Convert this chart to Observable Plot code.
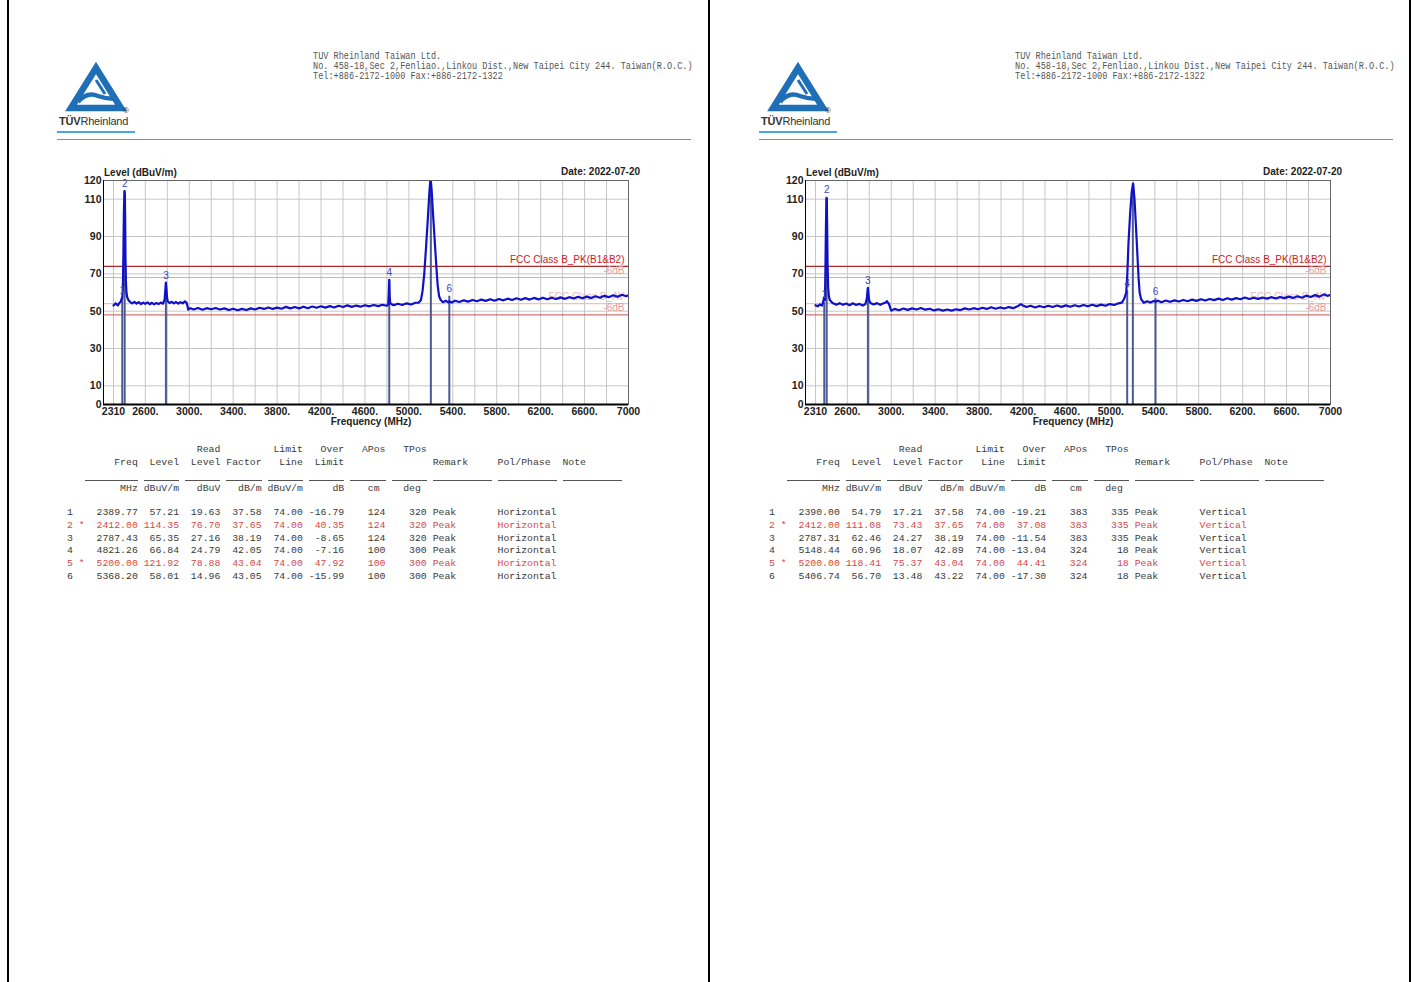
<!DOCTYPE html>
<html><head><meta charset="utf-8">
<script src="https://cdn.jsdelivr.net/npm/d3@7"></script>
<script src="https://cdn.jsdelivr.net/npm/@observablehq/plot@0.6"></script>
<style>
body{margin:0;width:1414px;height:982px;background:#fff;position:relative;overflow:hidden;font-family:"Liberation Sans",Arial,sans-serif}
.abs{position:absolute;white-space:pre}
.vline{position:absolute;top:0;width:2px;height:982px;background:#000}
.addr{position:absolute;font-family:"Liberation Mono",monospace;font-size:8.55px;line-height:10px;color:#555;white-space:pre;transform:scale(1,1.2);transform-origin:0 0}
.tbl{position:absolute;font-family:"Liberation Mono","DejaVu Sans Mono",monospace;font-size:9.83px;line-height:12px;white-space:pre;color:#3a3a3a}
.bold{font-weight:bold;font-size:10px;color:#222}
</style></head><body>
<script>
// ---------- shared chart data ----------
const freqTicks = [2310, 2600, 3000, 3400, 3800, 4200, 4600, 5000, 5400, 5800, 6200, 6600, 7000];
const freqGrid = [2310, 2600, 2800, 3000, 3200, 3400, 3600, 3800, 4000, 4200, 4400, 4600, 4800, 5000, 5200, 5400, 5600, 5800, 6000, 6200, 6400, 6600, 6800, 7000];
const levelTicks = [0, 10, 30, 50, 70, 90, 110, 120];
const levelGrid = [10, 30, 50, 70, 90, 110];
const limitLevels = [74, 68, 54, 48];
const limitNames = ["FCC Class B_PK(B1&B2)", "-6dB", "FCC Class B_AV", "-6dB"];
const headerLines = ["TUV Rheinland Taiwan Ltd.",
  "No. 458-18,Sec 2,Fenliao.,Linkou Dist.,New Taipei City 244. Taiwan(R.O.C.)",
  "Tel:+886-2172-1000 Fax:+886-2172-1322"];
const dateText = "Date: 2022-07-20";
const yTitle = "Level (dBuV/m)";
const xTitle = "Frequency (MHz)";

// ---------- page 1 (Horizontal) ----------
const hNo = ["1","2","3","4","5","6"];
const hStar = ["","*","","","*",""];
const hFreq = [2389.77, 2412.00, 2787.43, 4821.26, 5200.00, 5368.20];
const hLevel = [57.21, 114.35, 65.35, 66.84, 121.92, 58.01];
const hRead = [19.63, 76.70, 27.16, 24.79, 78.88, 14.96];
const hFactor = [37.58, 37.65, 38.19, 42.05, 43.04, 43.05];
const hLimit = [74.00, 74.00, 74.00, 74.00, 74.00, 74.00];
const hOver = [-16.79, 40.35, -8.65, -7.16, 47.92, -15.99];
const hAPos = [124, 124, 124, 100, 100, 100];
const hTPos = [320, 320, 320, 300, 300, 300];
const hRemark = ["Peak","Peak","Peak","Peak","Peak","Peak"];
const hPol = ["Horizontal","Horizontal","Horizontal","Horizontal","Horizontal","Horizontal"];
const hTrace = [[2310,53.0],[2330,54.2],[2350,53.1],[2365,54.5],[2375,55.0],[2385,56.8],[2390,57.2],[2395,62],[2400,80],[2405,104],[2410,114.3],[2413,113],[2416,101],[2419,80],[2423,66],[2428,60],[2435,57.5],[2445,56.0],[2460,55.0],[2480,54.2],[2500,55.0],[2520,54.0],[2540,54.8],[2560,53.8],[2580,54.6],[2600,53.9],[2620,54.7],[2640,53.7],[2660,54.5],[2680,53.6],[2700,54.4],[2720,53.8],[2740,54.6],[2760,54.0],[2775,56],[2782,61],[2787,65.3],[2792,62],[2798,57],[2805,55.2],[2820,54.4],[2840,55.0],[2860,54.2],[2880,54.9],[2900,54.0],[2920,54.8],[2940,54.2],[2960,55.3],[2975,54.6],[2985,52.5],[2990,50.8],[3010,51.6],[3040,50.9],[3080,51.7],[3120,50.8],[3160,51.6],[3200,51.0],[3240,51.7],[3280,50.9],[3320,51.5],[3360,50.6],[3400,51.3],[3440,50.5],[3480,51.2],[3520,50.6],[3560,51.5],[3600,50.9],[3640,51.8],[3680,51.2],[3720,52.0],[3760,51.2],[3800,51.9],[3840,51.3],[3880,52.3],[3920,51.5],[3960,52.2],[4000,51.5],[4040,52.4],[4080,51.6],[4120,52.5],[4160,51.8],[4200,52.6],[4240,51.9],[4280,52.7],[4320,52.0],[4360,52.9],[4400,52.2],[4440,53.1],[4480,52.3],[4520,53.0],[4560,52.4],[4600,53.2],[4640,52.6],[4680,53.3],[4720,52.7],[4760,53.4],[4800,52.9],[4812,53.6],[4817,60],[4821,66.8],[4825,58],[4830,54.2],[4860,53.2],[4900,54.0],[4940,53.3],[4980,54.2],[5020,53.6],[5060,54.5],[5090,54.6],[5110,56],[5125,61],[5140,70],[5155,83],[5170,97],[5185,112],[5197,121.9],[5207,115],[5220,102],[5235,88],[5250,74],[5262,64],[5275,58],[5290,56],[5310,54.8],[5335,55.6],[5360,54.7],[5368,55.4],[5390,54.6],[5420,55.6],[5460,54.9],[5500,55.8],[5540,55.1],[5580,56.0],[5620,55.3],[5660,56.2],[5700,55.5],[5740,56.4],[5780,55.6],[5820,56.5],[5860,55.8],[5900,56.7],[5940,56.0],[5980,56.9],[6020,56.1],[6060,57.0],[6100,56.2],[6140,57.1],[6180,56.3],[6220,57.2],[6260,56.4],[6300,57.2],[6340,56.5],[6380,57.4],[6420,56.6],[6460,57.5],[6500,56.8],[6540,57.7],[6580,56.9],[6620,57.8],[6660,57.0],[6700,58.0],[6740,57.2],[6780,58.2],[6820,57.5],[6860,58.5],[6900,57.7],[6940,58.8],[6980,58.0],[7000,58.6]];

// ---------- page 2 (Vertical) ----------
const vNo = ["1","2","3","4","5","6"];
const vStar = ["","*","","","*",""];
const vFreq = [2390.00, 2412.00, 2787.31, 5148.44, 5200.00, 5406.74];
const vLevel = [54.79, 111.08, 62.46, 60.96, 118.41, 56.70];
const vRead = [17.21, 73.43, 24.27, 18.07, 75.37, 13.48];
const vFactor = [37.58, 37.65, 38.19, 42.89, 43.04, 43.22];
const vLimit = [74.00, 74.00, 74.00, 74.00, 74.00, 74.00];
const vOver = [-19.21, 37.08, -11.54, -13.04, 44.41, -17.30];
const vAPos = [383, 383, 383, 324, 324, 324];
const vTPos = [335, 335, 335, 18, 18, 18];
const vRemark = ["Peak","Peak","Peak","Peak","Peak","Peak"];
const vPol = ["Vertical","Vertical","Vertical","Vertical","Vertical","Vertical"];
const vTrace = [[2310,53.2],[2330,52.6],[2350,53.6],[2370,53.0],[2382,55.5],[2390,57.5],[2396,56],[2400,70],[2405,95],[2410,110.5],[2413,110],[2416,96],[2420,75],[2425,63],[2432,58],[2440,56],[2455,55],[2470,54.2],[2500,53.5],[2530,54.3],[2560,53.4],[2590,54.1],[2620,53.2],[2650,54.2],[2680,53.3],[2710,53.9],[2740,53.0],[2765,53.8],[2778,57],[2784,61],[2787,62.5],[2792,59.5],[2798,56],[2810,54.4],[2840,53.6],[2870,54.3],[2900,53.4],[2930,54.2],[2950,54.6],[2960,55.4],[2970,54.5],[2980,53.8],[2990,51.8],[3000,50.3],[3030,51.2],[3070,50.5],[3110,51.4],[3150,50.7],[3190,51.5],[3230,50.9],[3270,51.7],[3310,50.8],[3350,51.3],[3390,50.4],[3430,51.0],[3470,50.3],[3510,50.9],[3550,50.3],[3590,51.0],[3630,50.6],[3670,51.5],[3710,50.9],[3750,51.6],[3790,51.0],[3830,51.8],[3870,51.2],[3910,52.1],[3950,51.3],[3990,52.0],[4030,51.4],[4070,52.2],[4110,51.6],[4150,52.6],[4180,53.8],[4200,53.0],[4230,52.2],[4270,52.9],[4310,52.0],[4350,52.8],[4390,52.1],[4430,52.9],[4470,52.2],[4510,53.0],[4550,52.3],[4590,53.1],[4630,52.4],[4670,53.2],[4710,52.5],[4750,53.3],[4790,52.6],[4830,53.4],[4870,52.7],[4910,53.5],[4950,52.9],[4990,53.8],[5030,53.3],[5070,54.2],[5100,54.6],[5120,56.5],[5140,60],[5150,70],[5160,86],[5175,102],[5190,114],[5203,118.4],[5215,110],[5228,96],[5240,82],[5252,68],[5262,60],[5275,56.5],[5300,54.5],[5330,55.3],[5360,54.6],[5390,55.4],[5407,55.0],[5430,55.6],[5460,54.8],[5500,55.7],[5540,55.0],[5580,55.8],[5620,55.2],[5660,56.0],[5700,55.3],[5740,56.2],[5780,55.5],[5820,56.4],[5860,55.7],[5900,56.5],[5940,55.9],[5980,56.7],[6020,56.0],[6060,56.9],[6100,56.2],[6140,57.0],[6180,56.4],[6220,57.3],[6260,56.5],[6300,57.2],[6340,56.6],[6380,57.3],[6420,56.7],[6460,57.5],[6500,56.8],[6540,57.6],[6580,57.0],[6620,57.8],[6660,57.1],[6700,58.0],[6740,57.2],[6780,58.3],[6820,57.6],[6860,58.6],[6900,57.8],[6940,59.0],[6970,58.2],[7000,58.6]];

const pages = [
  {ox: 0, no: hNo, star: hStar, freq: hFreq, level: hLevel, read: hRead, factor: hFactor, limit: hLimit, over: hOver, apos: hAPos, tpos: hTPos, remark: hRemark, pol: hPol, trace: hTrace},
  {ox: 702, no: vNo, star: vStar, freq: vFreq, level: vLevel, read: vRead, factor: vFactor, limit: vLimit, over: vOver, apos: vAPos, tpos: vTPos, remark: vRemark, pol: vPol, trace: vTrace}
];

// ---------- helpers ----------
function el(tag, cls, css, html) {
  const e = document.createElement(tag);
  if (cls) e.className = cls;
  if (css) e.style.cssText = css;
  if (html != null) e.innerHTML = html;
  document.body.appendChild(e);
  return e;
}
const CW = 5.9; // monospace char width
function fmtLine(idx, star, cols, tail) {
  const w = [9,7,7,7,7,7,7,7];
  let s = idx.padEnd(2) + star.padEnd(1);
  cols.forEach((c,i) => s += String(c).padStart(w[i]));
  if (tail) s += " " + tail[0].padEnd(11) + tail[1].padEnd(11) + (tail[2] || "");
  return s;
}
function logoSVG() {
  return `<svg width="90" height="80" viewBox="0 0 90 80" xmlns="http://www.w3.org/2000/svg">
    <polygon points="39,12 64,52 14,52" fill="none" stroke="#1f6fb8" stroke-width="6.5" stroke-linejoin="miter"/>
    <path d="M21,46 Q30,35 41,40 Q49,43 58,43" fill="none" stroke="#1f6fb8" stroke-width="4.5"/>
    <path d="M39,24 L48,38" fill="none" stroke="#1f6fb8" stroke-width="3"/>
  </svg>`;
}

// page borders
el("div","vline","left:7px");
el("div","vline","left:708px");
el("div","vline","left:1409px");

pages.forEach(P => {
  const ox = P.ox;
  // logo + header
  el("div","abs",`left:${ox+57}px;top:56px`, logoSVG());
  el("div","abs",`left:${ox+59}px;top:115px;font-size:11px;color:#333;letter-spacing:-0.2px`, "<b>TÜV</b>Rheinland");
  el("div","abs",`left:${ox+123}px;top:106px;font-size:8px;color:#333`, "®");
  el("div","abs",`left:${ox+57}px;top:131px;width:78px;height:2px;background:#4aa8dc`);
  el("div","abs",`left:${ox+57}px;top:139px;width:634px;height:1px;background:#8a8a8a`);
  headerLines.forEach((t,i) => el("div","addr",`left:${ox+313}px;top:${51 + i*10}px`, t));

  // chart titles
  el("div","abs bold",`left:${ox+104}px;top:167px`, yTitle);
  el("div","abs bold",`left:${ox+540}px;top:166px;width:100px;text-align:right`, dateText);
  el("div","abs bold",`left:${ox+321}px;top:416px;width:100px;text-align:center`, xTitle);

  const markers = P.freq.map((f,i) => ({no: P.no[i], f, lv: P.level[i]}));
  const svg = Plot.plot({
    width: 590, height: 280,
    marginLeft: 43, marginRight: 22, marginTop: 20, marginBottom: 36,
    style: {fontFamily: "'Liberation Sans', Arial, sans-serif", fontSize: "10.5px", color: "#222", background: "transparent", overflow: "visible"},
    x: {domain: [2219, 7000]},
    y: {domain: [0, 120]},
    marks: [
      Plot.ruleX(freqGrid, {stroke: "#c6c6c6", strokeWidth: 1}),
      Plot.ruleY(levelGrid, {stroke: "#c6c6c6", strokeWidth: 1}),
      Plot.ruleY([limitLevels[0]], {stroke: "#a82a2a", strokeWidth: 1.2}),
      Plot.ruleY([limitLevels[1]], {stroke: "#e4a6a6", strokeWidth: 1}),
      Plot.ruleY([limitLevels[2]], {stroke: "#ebb6a8", strokeWidth: 1}),
      Plot.ruleY([limitLevels[3]], {stroke: "#c65050", strokeWidth: 1}),
      Plot.text([limitNames[2]], {x: 7000, y: limitLevels[2], text: d => d, dy: -7, dx: -4, textAnchor: "end", fill: "#e9b9b9", fontSize: 10}),
      Plot.ruleX(markers, {x: "f", y1: 0, y2: d => Math.min(d.lv, 120), stroke: "#4c5a94", strokeWidth: 2}),
      Plot.line(P.trace, {x: d => d[0], y: d => d[1], stroke: "#1010c8", strokeWidth: 2.2, clip: true}),
      Plot.text(markers.filter(d => d.lv < 116), {x: "f", y: "lv", text: "no", dy: -7, fill: "#3c46c0", fontSize: 10}),
      Plot.text([limitNames[0]], {x: 7000, y: limitLevels[0], text: d => d, dy: -7, dx: -4, textAnchor: "end", fill: "#d02020", fontSize: 10}),
      Plot.text([limitNames[1]], {x: 7000, y: limitLevels[1], text: d => d, dy: -7, dx: -4, textAnchor: "end", fill: "#e89a9a", fontSize: 10}),
      Plot.text([limitNames[3]], {x: 7000, y: limitLevels[3], text: d => d, dy: -7, dx: -4, textAnchor: "end", fill: "#e89a9a", fontSize: 10}),
      Plot.frame({stroke: "#666"}),
      Plot.ruleY([0], {stroke: "#000", strokeWidth: 2}),
      Plot.ruleX([2219], {stroke: "#000", strokeWidth: 1}),
      Plot.axisX({ticks: freqTicks, tickFormat: d => (d === 2310 || d === 7000) ? String(d) : d + ".", tickSize: 0, tickPadding: 3, fontWeight: "bold", label: null}),
      Plot.axisY({ticks: levelTicks, tickFormat: d => String(d), tickSize: 0, tickPadding: 2, fontWeight: "bold", label: null})
    ]
  });
  svg.style.position = "absolute";
  svg.style.left = (ox + 60) + "px";
  svg.style.top = "160px";
  document.body.appendChild(svg);

  // table
  const x0 = ox + 67;
  const lineAt = (txt, yc, color) => el("div","tbl",`left:${x0}px;top:${yc - 6}px;color:${color || "#3a3a3a"}`, txt);
  lineAt(fmtLine("", "", ["", "", "Read", "", "Limit", "Over", "APos", "TPos"]), 449.5);
  lineAt(fmtLine("", "", ["Freq", "Level", "Level", "Factor", "Line", "Limit", "", ""], ["Remark", "Pol/Phase", "Note"]), 462.5);
  const segs = [[3,12],[13,19],[20,26],[27,33],[34,40],[41,47],[48,54],[55,61],[62,72],[73,83],[84,94]];
  segs.forEach(([a,b]) => el("div","abs",`left:${x0 + a*CW}px;top:480px;width:${(b-a)*CW}px;height:1px;background:#555`));
  lineAt(fmtLine("", "", ["MHz", "dBuV/m", "dBuV", "dB/m", "dBuV/m", "dB", "cm ", "deg "]), 488.5);
  P.freq.forEach((f,i) => {
    const txt = fmtLine(P.no[i], P.star[i], [f.toFixed(2), P.level[i].toFixed(2), P.read[i].toFixed(2), P.factor[i].toFixed(2), P.limit[i].toFixed(2), P.over[i].toFixed(2), P.apos[i], P.tpos[i]], [P.remark[i], P.pol[i], ""]);
    lineAt(txt, 513 + i*12.75, P.star[i] ? "#d24a4a" : "#3a3a3a");
  });
});
</script>
</body></html>
